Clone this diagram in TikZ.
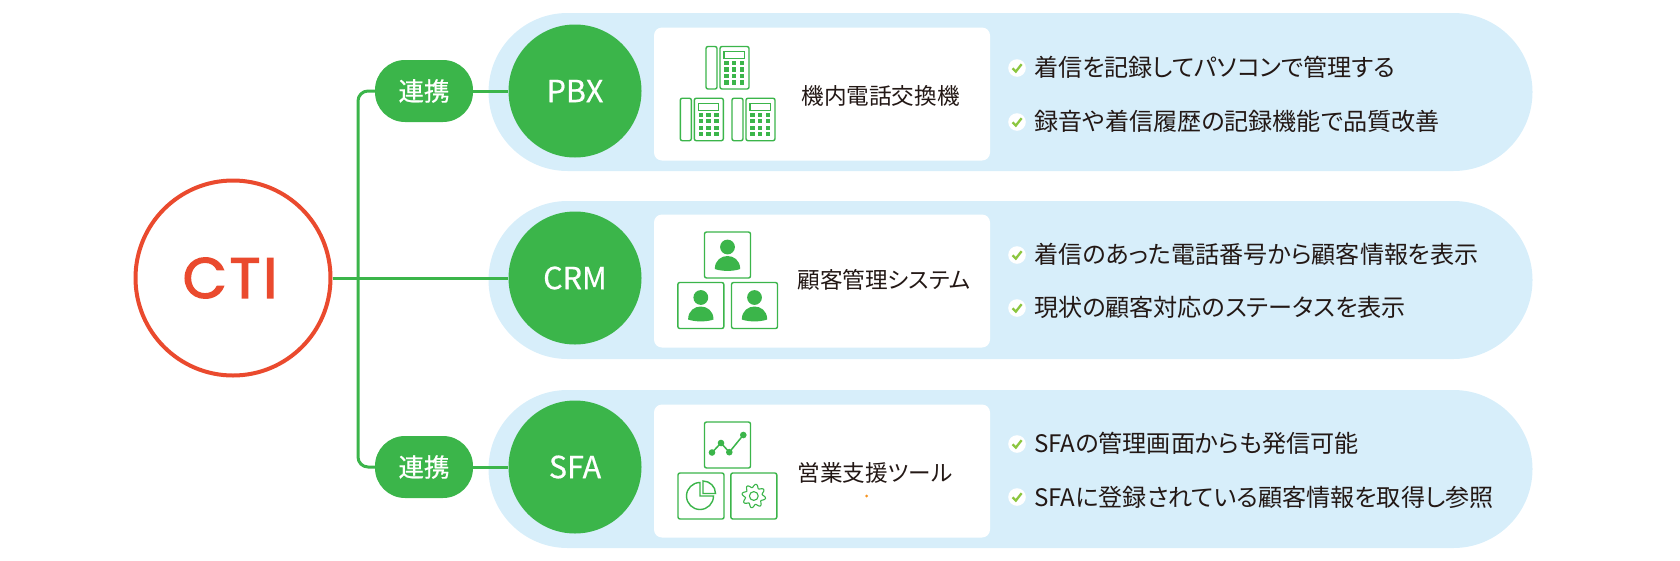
\documentclass[tikz,border=0pt]{standalone}
\usepackage{fontspec}
\setmainfont[RawFeature=+palt]{Noto Sans CJK JP}
\newfontfamily\ctifont[LetterSpace=5,FakeBold=2.4]{Poppins}
\newfontfamily\systemfont[FakeBold=0.5]{Noto Sans CJK JP}
\definecolor{ctired}{HTML}{EA4A2E}
\definecolor{linkgreen}{HTML}{3BB54A}
\definecolor{panelblue}{HTML}{D7EEFA}
\definecolor{checkgreen}{HTML}{8CC63F}
\definecolor{inktext}{HTML}{231815}
\definecolor{dotorange}{HTML}{F7931E}
\tikzset{
  panel/.style={fill=panelblue,minimum width=1044pt,minimum height=158pt,rounded corners=79pt,inner sep=0pt},
  whitebox/.style={fill=white,minimum width=336pt,minimum height=133pt,rounded corners=8pt,inner sep=0pt},
  linkline/.style={draw=linkgreen,line width=3pt},
  linkpill/.style={fill=linkgreen,text=white,minimum width=98pt,minimum height=62pt,rounded corners=30pt,inner sep=0pt,font=\systemfont\fontsize{25.5}{30}\selectfont},
  system/.style={circle,fill=linkgreen,text=white,minimum size=133pt,inner sep=0pt,font=\systemfont\fontsize{30.5}{36}\selectfont},
  boxtext/.style={text=inktext,inner sep=0pt,font=\fontsize{22.6}{26}\selectfont},
  itemtext/.style={text=inktext,anchor=west,inner sep=0pt,font=\fontsize{24.1}{28}\selectfont},
  iconline/.style={draw=linkgreen,line width=1.4pt,rounded corners=2pt},
  tile/.pic={\draw[iconline] (-23,-23) rectangle (23,23);},
  phoneicon/.pic={
    \draw[iconline] (-21.5,-21.5) rectangle (-10.5,21);
    \draw[iconline] (-7.5,-21.5) rectangle (21.5,21);
    \draw[draw=linkgreen,line width=1.2pt] (-3.5,-16.5) rectangle (17,-9.5);
    \foreach \colx in {-1,6.5,14.5}
      \foreach \rowy in {-5,1.5,8,14.5}
        \fill[linkgreen] (\colx-2.2,\rowy-2.2) rectangle (\colx+2.2,\rowy+2.2);
  },
  personicon/.pic={
    \pic {tile};
    \fill[linkgreen] (0,-8) circle (7.4);
    \fill[linkgreen] (-12.7,14) .. controls (-12.7,5) and (-6,1) .. (0,1) .. controls (6,1) and (12.7,5) .. (12.7,14) .. controls (6,16.5) and (-6,16.5) .. (-12.7,14) -- cycle;
  },
  charticon/.pic={
    \pic {tile};
    \draw[draw=linkgreen,line width=1.5pt] (-15.5,7.5) -- (-6.5,-2) -- (1.8,7.2) -- (15.8,-10);
    \foreach \px/\py in {-15.5/7.5,-6.5/-2,1.8/7.2,15.8/-10}
      \fill[linkgreen] (\px,\py) circle (3.3);
  },
  pieicon/.pic={
    \pic {tile};
    \draw[draw=linkgreen,line width=1.4pt] (-1,-13.5) arc (270:0:13.5) -- (-1,0) -- cycle;
    \draw[draw=linkgreen,line width=1.4pt] (2,-15) -- (2,-2.5) -- (14.5,-2.5) arc (0:-90:12.5) -- cycle;
  },
  gearicon/.pic={
    \pic {tile};
    \draw[draw=linkgreen,line width=1.1pt] plot[domain=0:360,samples=97,smooth] ({(10.2+1.7*sin(8*\x))*cos(\x)},{(10.2+1.7*sin(8*\x))*sin(\x)}) -- cycle;
    \draw[draw=linkgreen,line width=1.1pt] (0,0) circle (4.4);
  },
  checkicon/.pic={
    \fill[white] (0,0) circle (8.8);
    \draw[draw=checkgreen,line width=2.3pt] (-4.5,0.3) -- (-1.2,3.6) -- (4.6,-3.8);
  }
}

\begin{document}
\begin{tikzpicture}[x=1pt,y=-1pt]
\useasboundingbox (0,0) rectangle (1680,560);
% panels
\node[panel] (panelA) at (1010.5,92) {};
\node[panel] (panelB) at (1010.5,280) {};
\node[panel] (panelC) at (1010.5,469) {};
\node[whitebox] (boxA) at (822,94) {};
\node[whitebox] (boxB) at (822,281) {};
\node[whitebox] (boxC) at (822,471) {};
% main nodes
\node[circle,draw=ctired,line width=4pt,fill=white,minimum size=195pt,inner sep=0pt,text=ctired,font=\ctifont\fontsize{57}{60}\selectfont] (cti) at (233,278) {\hspace{-6pt}CTI};
\node[system] (pbx) at (575,91) {PBX};
\node[system] (crm) at (575,278) {CRM};
\node[system] (sfa) at (575,467) {SFA};
\node[linkpill] (linkA) at (424,91) {連携};
\node[linkpill] (linkB) at (424,467) {連携};
\coordinate (trunk) at (358,278);
% connectors
\draw[linkline,rounded corners=10pt] (linkA.west) -| (trunk) |- (linkB.west);
\draw[linkline] (cti) -- (crm);
\draw[linkline] (linkA) -- (pbx);
\draw[linkline] (linkB) -- (sfa);
% box titles
\node[boxtext] (titleA) at (880.5,96) {機内電話交換機};
\node[boxtext] (titleB) at (884,280) {顧客管理システム};
\node[boxtext] (titleC) at (875,473) {営業支援ツール};
% icons
\pic at (727.5,68) {phoneicon};
\pic at (701.8,119.7) {phoneicon};
\pic at (753.5,119.7) {phoneicon};
\pic at (727.5,255) {personicon};
\pic at (700.8,305.5) {personicon};
\pic at (754.5,305.5) {personicon};
\pic at (727.5,445) {charticon};
\pic at (701,496) {pieicon};
\pic at (753.8,496) {gearicon};
\fill[dotorange] (866.7,496) circle (1.5);
% check items
\pic at (1017,68) {checkicon};
\pic at (1017,122) {checkicon};
\pic at (1017,255) {checkicon};
\pic at (1017,308) {checkicon};
\pic at (1017,444) {checkicon};
\pic at (1017,497) {checkicon};
\node[itemtext] (itemA) at (1034,67) {着信を記録してパソコンで管理する};
\node[itemtext] (itemB) at (1034,121) {録音や着信履歴の記録機能で品質改善};
\node[itemtext] (itemC) at (1034,254) {着信のあった電話番号から顧客情報を表示};
\node[itemtext] (itemD) at (1034,307) {現状の顧客対応のステータスを表示};
\node[itemtext] (itemE) at (1034,443) {SFAの管理画面からも発信可能};
\node[itemtext] (itemF) at (1034,497) {SFAに登録されている顧客情報を取得し参照};
\end{tikzpicture}
\end{document}
